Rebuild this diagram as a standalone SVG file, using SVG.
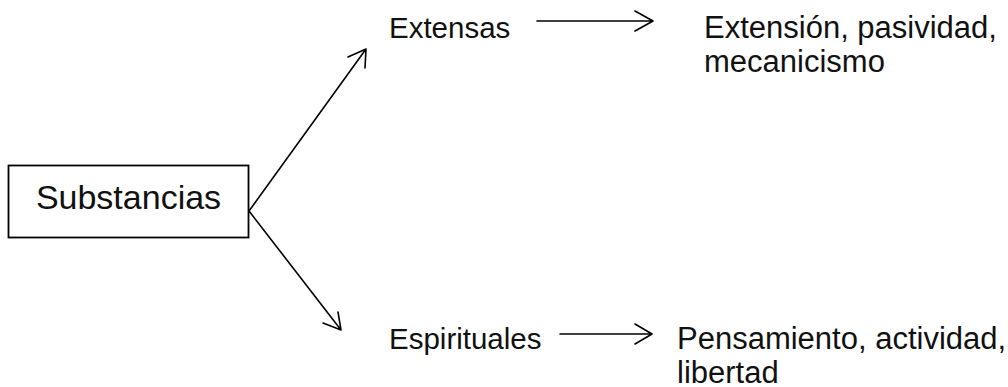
<svg xmlns="http://www.w3.org/2000/svg" width="1008" height="387" viewBox="0 0 1008 387">
<style>
text{font-family:"Liberation Sans",Arial,sans-serif;fill:#111;}
.l{font-size:29.5px;}
.r{font-size:31px;}
.c{stroke:#000;stroke-width:1.6;fill:none;stroke-linecap:round;stroke-linejoin:round;}
</style>
<rect width="1008" height="387" fill="#fff"/>
<g id="substancias">
<rect x="8.5" y="165.5" width="240" height="72" fill="#fff" stroke="#000" stroke-width="1.8"/>
<text x="128.5" y="209" text-anchor="middle" font-size="34">Substancias</text>
</g>
<g id="extensas"><text class="l" x="389" y="38">Extensas</text></g>
<g id="extensas-attr"><text class="r" x="704" y="38">Extensión, pasividad,</text><text class="r" x="704" y="72">mecanicismo</text></g>
<g id="espirituales"><text class="l" x="389" y="349">Espirituales</text></g>
<g id="espirituales-attr"><text class="r" x="677" y="349">Pensamiento, actividad,</text><text class="r" x="677" y="383">libertad</text></g>
<g id="connectors">
<path class="c" d="M249,211 L366,49 M348,57 L366,49 L365,68"/>
<path class="c" d="M249,211 L341,330 M323,323 L341,330 L338,312"/>
<path class="c" d="M537,21 L653,21 M635,11 L653,21 L635,31"/>
<path class="c" d="M560,334 L652,334 M635,324 L652,334 L635,344"/>
</g>
</svg>
